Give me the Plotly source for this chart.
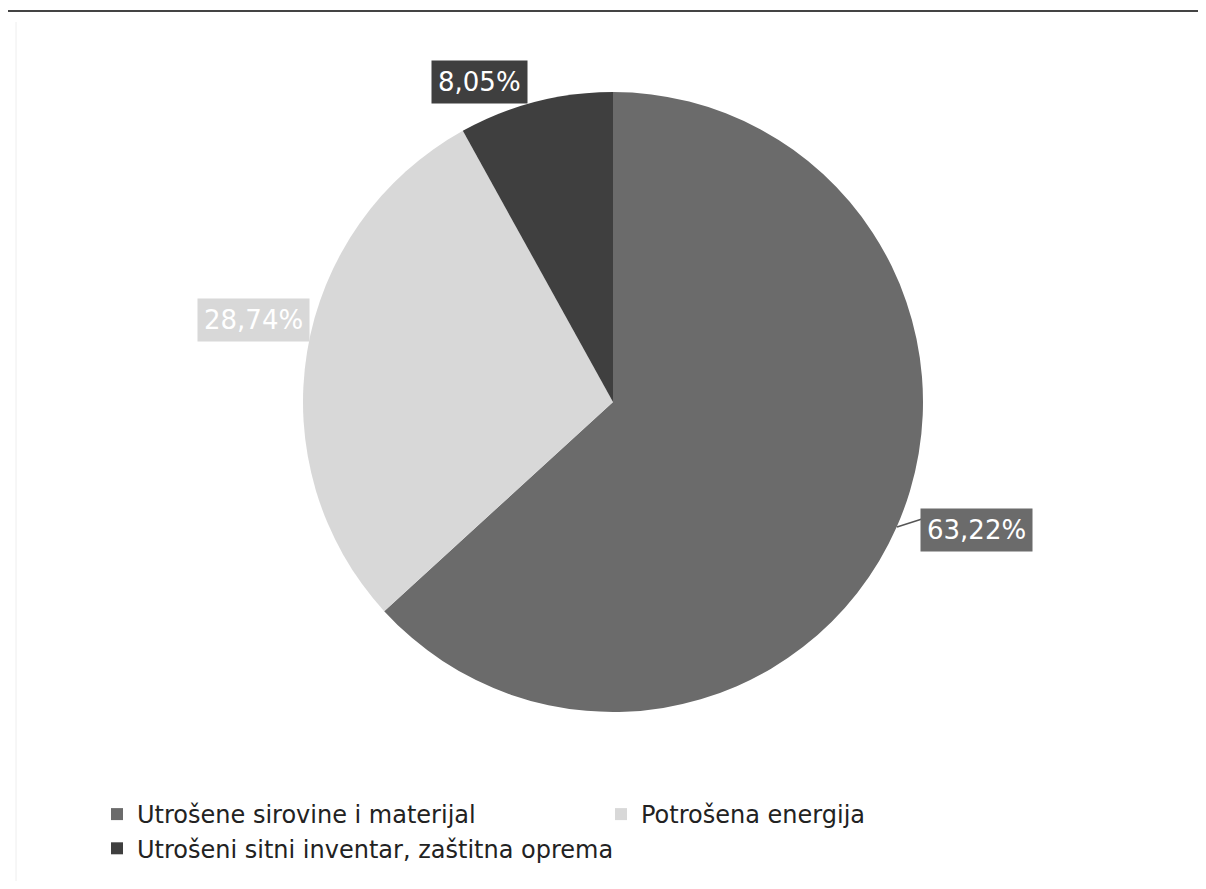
import plotly.graph_objects as go

categories = [
    "Utrošene sirovine i materijal",
    "Potrošena energija",
    "Utrošeni sitni inventar, zaštitna oprema",
]
shares = [63.22, 28.74, 8.05]
slice_colors = ["#6b6b6b", "#d8d8d8", "#3f3f3f"]

FONT = "DejaVu Sans, sans-serif"

# the page body keeps an 8px margin, so the figure is shrunk by it and
# screen pixel positions are converted with px()/py()
OFF = 8
FW, FH = 1206 - 2 * OFF, 889 - 2 * OFF


def px(x):
    return (x - OFF) / FW


def py(y):
    return 1 - (y - OFF) / FH


fig = go.Figure()
fig.add_trace(go.Pie(
    labels=categories,
    values=shares,
    sort=False,
    direction="clockwise",
    rotation=0,
    marker=dict(colors=slice_colors, line=dict(width=0)),
    textinfo="none",
    hoverinfo="label+percent",
    domain=dict(x=[px(303), px(923)], y=[py(712), py(92)]),
))

# leader line for the big slice
fig.add_shape(type="line", xref="paper", yref="paper",
              x0=px(897), y0=py(527), x1=px(922), y1=py(519),
              line=dict(color="#555555", width=1.5))

# label boxes (Excel style data labels)
label_pos = [(976, 530), (253, 320), (479, 82)]
for val, col, (lx, ly) in zip(shares, slice_colors, label_pos):
    fig.add_annotation(
        x=px(lx), y=py(ly), xref="paper", yref="paper",
        xanchor="center", yanchor="middle",
        text=f"{val:.2f}%".replace(".", ","),
        showarrow=False,
        font=dict(family=FONT, size=26, color="white"),
        bgcolor=col, borderpad=6,
    )

# frame lines
fig.add_shape(type="line", xref="paper", yref="paper",
              x0=0, x1=1, y0=py(11), y1=py(11),
              line=dict(color="#444444", width=2))
fig.add_shape(type="line", xref="paper", yref="paper",
              x0=px(16), x1=px(16), y0=py(22), y1=0,
              line=dict(color="#eeeeee", width=1))

fig.update_layout(
    width=FW, height=FH,
    margin=dict(l=0, r=0, t=0, b=0),
    paper_bgcolor="white",
    plot_bgcolor="white",
    showlegend=True,
    legend=dict(
        orientation="h",
        x=px(97), y=py(792), xanchor="left", yanchor="top",
        font=dict(family=FONT, size=24, color="#222222"),
        entrywidth=459, entrywidthmode="pixels",
        itemclick=False,
    ),
)

fig.write_html("out.html")
